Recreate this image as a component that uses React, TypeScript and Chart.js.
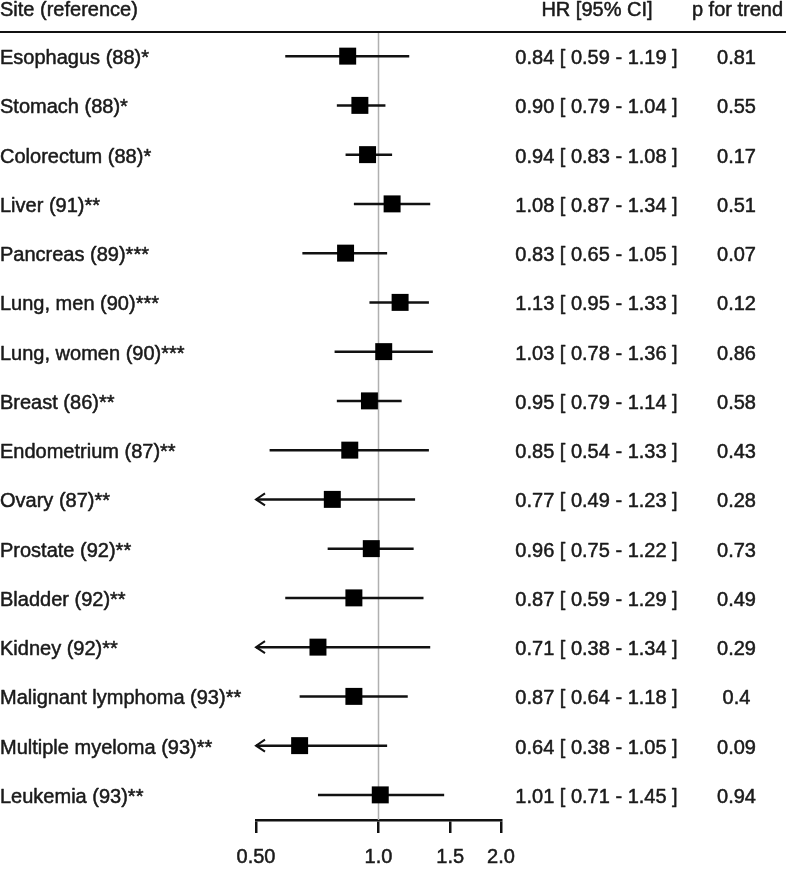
import React, { useEffect, useRef } from "react";
import { Chart, registerables } from "chart.js";

Chart.register(...registerables);

const sites = [
  "Esophagus (88)*",
  "Stomach (88)*",
  "Colorectum (88)*",
  "Liver (91)**",
  "Pancreas (89)***",
  "Lung, men (90)***",
  "Lung, women (90)***",
  "Breast (86)**",
  "Endometrium (87)**",
  "Ovary (87)**",
  "Prostate (92)**",
  "Bladder (92)**",
  "Kidney (92)**",
  "Malignant lymphoma (93)**",
  "Multiple myeloma (93)**",
  "Leukemia (93)**",
];
const hr = [0.84, 0.9, 0.94, 1.08, 0.83, 1.13, 1.03, 0.95, 0.85, 0.77, 0.96, 0.87, 0.71, 0.87, 0.64, 1.01];
const lower = [0.59, 0.79, 0.83, 0.87, 0.65, 0.95, 0.78, 0.79, 0.54, 0.49, 0.75, 0.59, 0.38, 0.64, 0.38, 0.71];
const upper = [1.19, 1.04, 1.08, 1.34, 1.05, 1.33, 1.36, 1.14, 1.33, 1.23, 1.22, 1.29, 1.34, 1.18, 1.05, 1.45];
const pTrend = ["0.81", "0.55", "0.17", "0.51", "0.07", "0.12", "0.86", "0.58", "0.43", "0.28", "0.73", "0.49", "0.29", "0.4", "0.09", "0.94"];
const tickValues = [0.5, 1, 1.5, 2];
const tickLabels = ["0.50", "1.0", "1.5", "2.0"];
const headers = ["Site (reference)", "HR [95% CI]", "p for trend"];

const FAMILY = '"Liberation Sans", Arial, Helvetica, sans-serif';
const FONT = `20px ${FAMILY}`;
const TEXT = "#1a1a1a";

export default function App() {
  const ref = useRef<HTMLCanvasElement>(null);

  useEffect(() => {
    document.body.style.margin = "0";
    const canvas = ref.current;
    if (!canvas) return;

    const drawText = (ctx: CanvasRenderingContext2D, s: string, x: number, y: number) => {
      ctx.strokeText(s, x, y);
      ctx.fillText(s, x, y);
    };

    const forestPlugin = {
      id: "forest",
      beforeDatasetsDraw(chart: any) {
        const { ctx, chartArea } = chart;
        const x = chart.scales.x;
        const y = chart.scales.y;
        ctx.save();
        // reference line at HR = 1
        const x1 = x.getPixelForValue(1);
        ctx.strokeStyle = "#b0b0b0";
        ctx.lineWidth = 1.5;
        ctx.beginPath();
        ctx.moveTo(x1, chartArea.top);
        ctx.lineTo(x1, chartArea.bottom);
        ctx.stroke();
        // confidence intervals
        ctx.strokeStyle = "#111";
        ctx.lineWidth = 2.5;
        for (let i = 0; i < hr.length; i++) {
          const yy = y.getPixelForValue(i);
          const lo = Math.max(lower[i], x.min);
          const up = Math.min(upper[i], x.max);
          const xl = x.getPixelForValue(lo);
          const xr = x.getPixelForValue(up);
          ctx.beginPath();
          ctx.moveTo(xl, yy);
          ctx.lineTo(xr, yy);
          ctx.stroke();
          if (lower[i] < x.min) {
            ctx.lineWidth = 2;
            ctx.beginPath();
            ctx.moveTo(xl + 9, yy - 6);
            ctx.lineTo(xl, yy);
            ctx.lineTo(xl + 9, yy + 6);
            ctx.stroke();
            ctx.lineWidth = 2.5;
          }
        }
        ctx.restore();
      },
      afterDraw(chart: any) {
        const { ctx } = chart;
        const y = chart.scales.y;
        const W = chart.width;
        ctx.save();
        // header line
        ctx.strokeStyle = "#111";
        ctx.lineWidth = 2;
        ctx.beginPath();
        ctx.moveTo(0, 32);
        ctx.lineTo(W, 32);
        ctx.stroke();
        // header texts
        ctx.font = FONT;
        ctx.fillStyle = TEXT;
        ctx.strokeStyle = TEXT;
        ctx.lineWidth = 0.5;
        ctx.lineJoin = "round";
        ctx.textBaseline = "alphabetic";
        ctx.textAlign = "left";
        drawText(ctx, headers[0], 0, 15.5);
        ctx.textAlign = "center";
        drawText(ctx, headers[1], 597, 15.5);
        drawText(ctx, headers[2], 737.5, 15.5);
        // rows
        for (let i = 0; i < sites.length; i++) {
          const yy = y.getPixelForValue(i) + 8;
          ctx.textAlign = "left";
          drawText(ctx, sites[i], 0, yy);
          ctx.textAlign = "center";
          const s = `${hr[i].toFixed(2)} [ ${lower[i].toFixed(2)} - ${upper[i].toFixed(2)} ]`;
          drawText(ctx, s, 596.5, yy);
          drawText(ctx, pTrend[i], 736.5, yy);
        }
        ctx.restore();
      },
    };

    const chart = new Chart(canvas, {
      type: "scatter",
      data: {
        datasets: [
          {
            data: hr.map((v, i) => ({ x: v, y: i })),
            pointStyle: "rect",
            pointRadius: 12,
            pointHoverRadius: 12,
            backgroundColor: "#000",
            borderColor: "#000",
            borderWidth: 0,
          },
        ],
      },
      options: {
        animation: false,
        responsive: false,
        devicePixelRatio: 1,
        events: [],
        layout: { padding: { left: 256, right: 285, top: 32, bottom: 0 } },
        plugins: { legend: { display: false }, tooltip: { enabled: false } },
        scales: {
          x: {
            type: "logarithmic",
            min: 0.5,
            max: 2,
            afterBuildTicks: (s: any) => {
              s.ticks = tickValues.map((v) => ({ value: v }));
            },
            afterFit: (s: any) => {
              s.height = 49;
            },
            grid: {
              display: true,
              drawOnChartArea: false,
              drawTicks: true,
              tickLength: 13,
              color: "#111",
              lineWidth: 2.5,
            },
            border: { display: true, color: "#111", width: 2.5 },
            ticks: {
              autoSkip: false,
              maxRotation: 0,
              minRotation: 0,
              padding: 12,
              color: TEXT,
              textStrokeColor: TEXT,
              textStrokeWidth: 0.5,
              font: { size: 20, family: FAMILY },
              callback: (_v: any, i: number) => tickLabels[i],
            },
          },
          y: {
            type: "linear",
            display: false,
            reverse: true,
            min: -0.49,
            max: 15.51,
          },
        },
      },
      plugins: [forestPlugin],
    } as any);

    return () => chart.destroy();
  }, []);

  return <canvas ref={ref} width={786} height={869} style={{ display: "block" }} />;
}
